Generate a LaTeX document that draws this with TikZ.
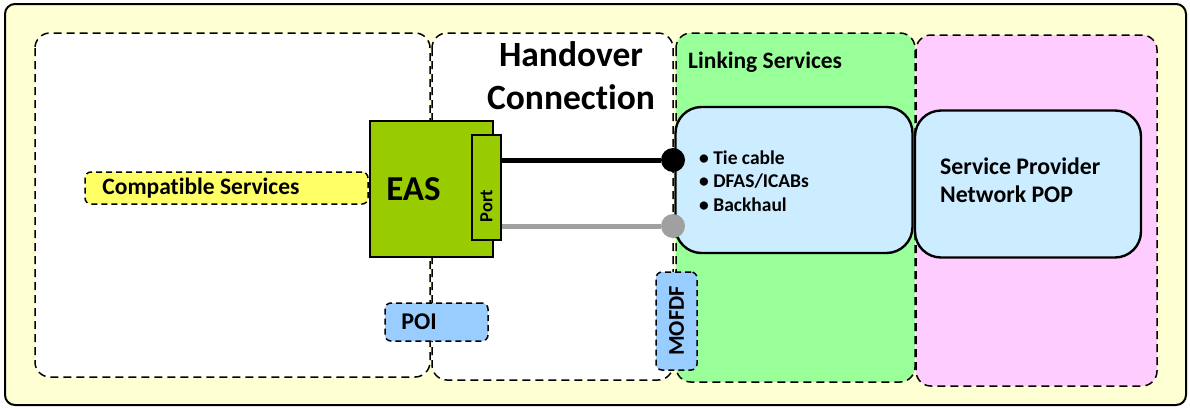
\documentclass[tikz,border=0pt]{standalone}
\usepackage{fontspec}
\setmainfont{Carlito}[Ligatures={NoCommon}]
\usetikzlibrary{positioning}
\definecolor{paleyellow}{RGB}{255,255,212}
\definecolor{linkgreen}{RGB}{153,255,153}
\definecolor{sppink}{RGB}{255,204,255}
\definecolor{boxblue}{RGB}{204,236,255}
\definecolor{tagblue}{RGB}{153,204,255}
\definecolor{easgreen}{RGB}{153,204,0}
\definecolor{csyellow}{RGB}{255,255,102}
\definecolor{wiregray}{RGB}{160,160,160}

\tikzset{
  zone/.style={draw=black, dash pattern=on 8pt off 5pt, line width=1.5pt, rounded corners=15pt},
  tagbox/.style={draw=black, dash pattern=on 6pt off 4pt, line width=1.5pt, rounded corners=6pt, inner sep=0pt},
  solidbox/.style={draw=black, line width=2.4pt, rounded corners=26pt, fill=boxblue, inner sep=0pt},
  easbox/.style={draw=black, line width=2pt, fill=easgreen, inner sep=0pt},
  plug/.style={circle, inner sep=0pt, minimum size=24pt},
  txt/.style={font=\bfseries, inner sep=0pt}
}

\begin{document}
\begin{tikzpicture}[x=1pt, y=-1pt]
  \useasboundingbox (0,0) rectangle (1190,408);
  % background frame
  \draw[line width=2pt, rounded corners=10pt, fill=paleyellow] (5,4) rectangle (1186,405);

  % zones
  \draw[zone, fill=white] (35,33) rectangle (430,377);
  \draw[zone, fill=white] (432,33) rectangle (673,380);
  \draw[zone, fill=linkgreen] (676,33) rectangle (915,382);
  \draw[zone, fill=sppink] (916,35) rectangle (1157,386);

  % titles
  \node[txt, align=center, font=\fontsize{35.5}{43}\selectfont\bfseries] (handover) at (571,76) {Handover\\Connection};
  \node[txt, anchor=west, font=\fontsize{23.5}{28}\selectfont\bfseries] (linking) at (688,62) {Linking Services};

  % small tags
  \node[tagbox, fill=csyellow, minimum width=283pt, minimum height=32pt] (compat) at (226.5,188) {};
  \node[txt, anchor=west, font=\fontsize{23.5}{28}\selectfont\bfseries] at (compat.west) [xshift=18pt] {Compatible Services};
  \node[tagbox, fill=tagblue, minimum width=103pt, minimum height=38pt] (poi) at (436.5,322) {};
  \node[txt, anchor=west, font=\fontsize{24}{28}\selectfont\bfseries] at (poi.west) [xshift=17pt] {POI};
  \node[tagbox, fill=tagblue, minimum width=41pt, minimum height=98pt] (mofdf) at (676.5,321) {};
  \node[txt, rotate=90, font=\fontsize{22.5}{26}\selectfont\bfseries] at (mofdf.center) {MOFDF};

  % EAS and its port
  \node[easbox, minimum width=123pt, minimum height=136pt] (eas) at (431.5,189) {};
  \node[txt, font=\fontsize{35}{40}\selectfont\bfseries] at (413.5,189) {EAS};
  \node[easbox, minimum width=29pt, minimum height=105pt] (port) at (486.5,187.5) {};
  \node[txt, rotate=90, font=\fontsize{18.5}{22}\selectfont\bfseries] at (486.5,206) {Port};

  % boxes
  \node[solidbox, minimum width=237pt, minimum height=146pt] (link) at (794,180) {};
  \node[txt, anchor=west, align=left, font=\fontsize{19.5}{23.5}\selectfont\bfseries] at (699,181)
    {\textbullet\ Tie cable\\\textbullet\ DFAS/ICABs\\\textbullet\ Backhaul};
  \node[solidbox, minimum width=226pt, minimum height=147pt] (spop) at (1028,184) {};
  \node[txt, anchor=west, align=left, font=\fontsize{23.8}{28}\selectfont\bfseries] at (940,180)
    {Service Provider\\Network POP};

  % handover wires
  \node[plug, fill=black] (tie) at (673,160) {};
  \node[plug, fill=wiregray] (back) at (673,226) {};
  \draw[line width=5pt, black] (port.east |- tie) -- (tie);
  \draw[line width=5pt, wiregray] (port.east |- back) -- (back);
\end{tikzpicture}
\end{document}
